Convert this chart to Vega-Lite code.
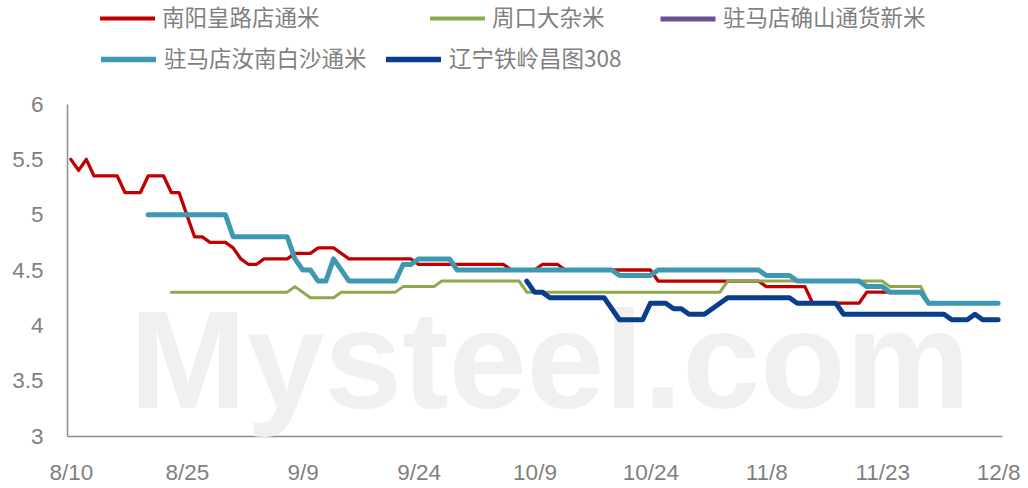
{
  "$schema": "https://vega.github.io/schema/vega-lite/v6.json",
  "autosize": {"type": "none"},
  "width": 935,
  "height": 332,
  "padding": {"left": 67, "top": 104, "right": 26, "bottom": 52},
  "background": "white",
  "config": {
    "view": {"stroke": null},
    "font": "Liberation Sans",
    "legend": {
      "orient": "none",
      "title": null,
      "padding": 0,
      "symbolType": "stroke",
      "symbolSize": 3025,
      "labelFont": "Noto Sans CJK SC",
      "labelFontSize": 22.5,
      "labelColor": "#7f7f7f",
      "labelOffset": 5,
      "labelLimit": 400
    }
  },
  "datasets": {
    "prices": [
      {"series": "南阳皇路店通米", "date": "2023-08-10", "price": 5.5},
      {"series": "南阳皇路店通米", "date": "2023-08-11", "price": 5.4},
      {"series": "南阳皇路店通米", "date": "2023-08-12", "price": 5.5},
      {"series": "南阳皇路店通米", "date": "2023-08-13", "price": 5.35},
      {"series": "南阳皇路店通米", "date": "2023-08-16", "price": 5.35},
      {"series": "南阳皇路店通米", "date": "2023-08-17", "price": 5.2},
      {"series": "南阳皇路店通米", "date": "2023-08-19", "price": 5.2},
      {"series": "南阳皇路店通米", "date": "2023-08-20", "price": 5.35},
      {"series": "南阳皇路店通米", "date": "2023-08-22", "price": 5.35},
      {"series": "南阳皇路店通米", "date": "2023-08-23", "price": 5.2},
      {"series": "南阳皇路店通米", "date": "2023-08-24", "price": 5.2},
      {"series": "南阳皇路店通米", "date": "2023-08-25", "price": 5.0},
      {"series": "南阳皇路店通米", "date": "2023-08-26", "price": 4.8},
      {"series": "南阳皇路店通米", "date": "2023-08-27", "price": 4.8},
      {"series": "南阳皇路店通米", "date": "2023-08-28", "price": 4.75},
      {"series": "南阳皇路店通米", "date": "2023-08-30", "price": 4.75},
      {"series": "南阳皇路店通米", "date": "2023-08-31", "price": 4.7},
      {"series": "南阳皇路店通米", "date": "2023-09-01", "price": 4.6},
      {"series": "南阳皇路店通米", "date": "2023-09-02", "price": 4.55},
      {"series": "南阳皇路店通米", "date": "2023-09-03", "price": 4.55},
      {"series": "南阳皇路店通米", "date": "2023-09-04", "price": 4.6},
      {"series": "南阳皇路店通米", "date": "2023-09-07", "price": 4.6},
      {"series": "南阳皇路店通米", "date": "2023-09-08", "price": 4.65},
      {"series": "南阳皇路店通米", "date": "2023-09-10", "price": 4.65},
      {"series": "南阳皇路店通米", "date": "2023-09-11", "price": 4.7},
      {"series": "南阳皇路店通米", "date": "2023-09-13", "price": 4.7},
      {"series": "南阳皇路店通米", "date": "2023-09-15", "price": 4.6},
      {"series": "南阳皇路店通米", "date": "2023-09-23", "price": 4.6},
      {"series": "南阳皇路店通米", "date": "2023-09-24", "price": 4.55},
      {"series": "南阳皇路店通米", "date": "2023-10-05", "price": 4.55},
      {"series": "南阳皇路店通米", "date": "2023-10-06", "price": 4.5},
      {"series": "南阳皇路店通米", "date": "2023-10-09", "price": 4.5},
      {"series": "南阳皇路店通米", "date": "2023-10-10", "price": 4.55},
      {"series": "南阳皇路店通米", "date": "2023-10-12", "price": 4.55},
      {"series": "南阳皇路店通米", "date": "2023-10-13", "price": 4.5},
      {"series": "南阳皇路店通米", "date": "2023-10-24", "price": 4.5},
      {"series": "南阳皇路店通米", "date": "2023-10-25", "price": 4.4},
      {"series": "南阳皇路店通米", "date": "2023-11-07", "price": 4.4},
      {"series": "南阳皇路店通米", "date": "2023-11-08", "price": 4.35},
      {"series": "南阳皇路店通米", "date": "2023-11-13", "price": 4.35},
      {"series": "南阳皇路店通米", "date": "2023-11-14", "price": 4.2},
      {"series": "南阳皇路店通米", "date": "2023-11-20", "price": 4.2},
      {"series": "南阳皇路店通米", "date": "2023-11-21", "price": 4.3},
      {"series": "南阳皇路店通米", "date": "2023-11-28", "price": 4.3},
      {"series": "南阳皇路店通米", "date": "2023-11-29", "price": 4.2},
      {"series": "南阳皇路店通米", "date": "2023-12-08", "price": 4.2},

      {"series": "周口大杂米", "date": "2023-08-23", "price": 4.3},
      {"series": "周口大杂米", "date": "2023-09-07", "price": 4.3},
      {"series": "周口大杂米", "date": "2023-09-08", "price": 4.35},
      {"series": "周口大杂米", "date": "2023-09-10", "price": 4.25},
      {"series": "周口大杂米", "date": "2023-09-13", "price": 4.25},
      {"series": "周口大杂米", "date": "2023-09-14", "price": 4.3},
      {"series": "周口大杂米", "date": "2023-09-21", "price": 4.3},
      {"series": "周口大杂米", "date": "2023-09-22", "price": 4.35},
      {"series": "周口大杂米", "date": "2023-09-26", "price": 4.35},
      {"series": "周口大杂米", "date": "2023-09-27", "price": 4.4},
      {"series": "周口大杂米", "date": "2023-10-07", "price": 4.4},
      {"series": "周口大杂米", "date": "2023-10-08", "price": 4.3},
      {"series": "周口大杂米", "date": "2023-11-02", "price": 4.3},
      {"series": "周口大杂米", "date": "2023-11-03", "price": 4.4},
      {"series": "周口大杂米", "date": "2023-11-23", "price": 4.4},
      {"series": "周口大杂米", "date": "2023-11-24", "price": 4.35},
      {"series": "周口大杂米", "date": "2023-11-28", "price": 4.35},
      {"series": "周口大杂米", "date": "2023-11-29", "price": 4.2},
      {"series": "周口大杂米", "date": "2023-12-08", "price": 4.2},

      {"series": "驻马店汝南白沙通米", "date": "2023-08-20", "price": 5.0},
      {"series": "驻马店汝南白沙通米", "date": "2023-08-30", "price": 5.0},
      {"series": "驻马店汝南白沙通米", "date": "2023-08-31", "price": 4.8},
      {"series": "驻马店汝南白沙通米", "date": "2023-09-07", "price": 4.8},
      {"series": "驻马店汝南白沙通米", "date": "2023-09-08", "price": 4.6},
      {"series": "驻马店汝南白沙通米", "date": "2023-09-09", "price": 4.5},
      {"series": "驻马店汝南白沙通米", "date": "2023-09-10", "price": 4.5},
      {"series": "驻马店汝南白沙通米", "date": "2023-09-11", "price": 4.4},
      {"series": "驻马店汝南白沙通米", "date": "2023-09-12", "price": 4.4},
      {"series": "驻马店汝南白沙通米", "date": "2023-09-13", "price": 4.6},
      {"series": "驻马店汝南白沙通米", "date": "2023-09-15", "price": 4.4},
      {"series": "驻马店汝南白沙通米", "date": "2023-09-21", "price": 4.4},
      {"series": "驻马店汝南白沙通米", "date": "2023-09-22", "price": 4.55},
      {"series": "驻马店汝南白沙通米", "date": "2023-09-23", "price": 4.55},
      {"series": "驻马店汝南白沙通米", "date": "2023-09-24", "price": 4.6},
      {"series": "驻马店汝南白沙通米", "date": "2023-09-28", "price": 4.6},
      {"series": "驻马店汝南白沙通米", "date": "2023-09-29", "price": 4.5},
      {"series": "驻马店汝南白沙通米", "date": "2023-10-19", "price": 4.5},
      {"series": "驻马店汝南白沙通米", "date": "2023-10-20", "price": 4.45},
      {"series": "驻马店汝南白沙通米", "date": "2023-10-24", "price": 4.45},
      {"series": "驻马店汝南白沙通米", "date": "2023-10-25", "price": 4.5},
      {"series": "驻马店汝南白沙通米", "date": "2023-11-07", "price": 4.5},
      {"series": "驻马店汝南白沙通米", "date": "2023-11-08", "price": 4.45},
      {"series": "驻马店汝南白沙通米", "date": "2023-11-11", "price": 4.45},
      {"series": "驻马店汝南白沙通米", "date": "2023-11-12", "price": 4.4},
      {"series": "驻马店汝南白沙通米", "date": "2023-11-20", "price": 4.4},
      {"series": "驻马店汝南白沙通米", "date": "2023-11-21", "price": 4.35},
      {"series": "驻马店汝南白沙通米", "date": "2023-11-23", "price": 4.35},
      {"series": "驻马店汝南白沙通米", "date": "2023-11-24", "price": 4.3},
      {"series": "驻马店汝南白沙通米", "date": "2023-11-28", "price": 4.3},
      {"series": "驻马店汝南白沙通米", "date": "2023-11-29", "price": 4.2},
      {"series": "驻马店汝南白沙通米", "date": "2023-12-08", "price": 4.2},

      {"series": "辽宁铁岭昌图308", "date": "2023-10-08", "price": 4.4},
      {"series": "辽宁铁岭昌图308", "date": "2023-10-09", "price": 4.3},
      {"series": "辽宁铁岭昌图308", "date": "2023-10-10", "price": 4.3},
      {"series": "辽宁铁岭昌图308", "date": "2023-10-11", "price": 4.25},
      {"series": "辽宁铁岭昌图308", "date": "2023-10-18", "price": 4.25},
      {"series": "辽宁铁岭昌图308", "date": "2023-10-20", "price": 4.05},
      {"series": "辽宁铁岭昌图308", "date": "2023-10-23", "price": 4.05},
      {"series": "辽宁铁岭昌图308", "date": "2023-10-24", "price": 4.2},
      {"series": "辽宁铁岭昌图308", "date": "2023-10-26", "price": 4.2},
      {"series": "辽宁铁岭昌图308", "date": "2023-10-27", "price": 4.15},
      {"series": "辽宁铁岭昌图308", "date": "2023-10-28", "price": 4.15},
      {"series": "辽宁铁岭昌图308", "date": "2023-10-29", "price": 4.1},
      {"series": "辽宁铁岭昌图308", "date": "2023-10-31", "price": 4.1},
      {"series": "辽宁铁岭昌图308", "date": "2023-11-03", "price": 4.25},
      {"series": "辽宁铁岭昌图308", "date": "2023-11-11", "price": 4.25},
      {"series": "辽宁铁岭昌图308", "date": "2023-11-12", "price": 4.2},
      {"series": "辽宁铁岭昌图308", "date": "2023-11-17", "price": 4.2},
      {"series": "辽宁铁岭昌图308", "date": "2023-11-18", "price": 4.1},
      {"series": "辽宁铁岭昌图308", "date": "2023-12-01", "price": 4.1},
      {"series": "辽宁铁岭昌图308", "date": "2023-12-02", "price": 4.05},
      {"series": "辽宁铁岭昌图308", "date": "2023-12-04", "price": 4.05},
      {"series": "辽宁铁岭昌图308", "date": "2023-12-05", "price": 4.1},
      {"series": "辽宁铁岭昌图308", "date": "2023-12-06", "price": 4.05},
      {"series": "辽宁铁岭昌图308", "date": "2023-12-08", "price": 4.05}
    ],
    "watermark": [
      {"label": "Mysteel.com", "date": "2023-10-11", "price": 3.25}
    ]
  },
  "data": {"name": "prices"},
  "encoding": {
    "x": {
      "field": "date",
      "type": "temporal",
      "title": null,
      "scale": {
        "type": "utc",
        "domain": [
          {"year": 2023, "month": 8, "date": 9, "hours": 12, "utc": true},
          {"year": 2023, "month": 12, "date": 8, "hours": 12, "utc": true}
        ]
      },
      "axis": {
        "values": [
          {"year": 2023, "month": 8, "date": 10, "utc": true},
          {"year": 2023, "month": 8, "date": 25, "utc": true},
          {"year": 2023, "month": 9, "date": 9, "utc": true},
          {"year": 2023, "month": 9, "date": 24, "utc": true},
          {"year": 2023, "month": 10, "date": 9, "utc": true},
          {"year": 2023, "month": 10, "date": 24, "utc": true},
          {"year": 2023, "month": 11, "date": 8, "utc": true},
          {"year": 2023, "month": 11, "date": 23, "utc": true},
          {"year": 2023, "month": 12, "date": 8, "utc": true}
        ],
        "format": "%-m/%-d",
        "grid": false,
        "ticks": false,
        "tickSize": 0,
        "labelPadding": 25,
        "labelFontSize": 22.5,
        "labelColor": "#7f7f7f",
        "labelFont": "Liberation Sans",
        "domainColor": "#8c8c8c",
        "domainWidth": 1.5,
        "labelOverlap": false,
        "labelFlush": false
      }
    },
    "y": {
      "field": "price",
      "type": "quantitative",
      "title": null,
      "scale": {"domain": [3, 6], "nice": false, "zero": false},
      "axis": {
        "values": [3, 3.5, 4, 4.5, 5, 5.5, 6],
        "labelExpr": "datum.value",
        "grid": false,
        "ticks": false,
        "tickSize": 0,
        "labelPadding": 24,
        "labelFontSize": 22.5,
        "labelColor": "#7f7f7f",
        "labelFont": "Liberation Sans",
        "domainColor": "#8c8c8c",
        "domainWidth": 1.5,
        "labelOverlap": false,
        "labelFlush": false
      }
    }
  },
  "layer": [
    {
      "data": {"name": "watermark"},
      "mark": {
        "type": "text",
        "font": "Liberation Sans",
        "fontWeight": "bold",
        "fontSize": 140,
        "align": "center",
        "baseline": "alphabetic",
        "color": "#f0f0f0"
      },
      "encoding": {
        "text": {"field": "label", "type": "nominal"}
      }
    },
    {
      "mark": {"type": "line", "strokeWidth": 3.3, "strokeCap": "round", "strokeJoin": "round"},
      "transform": [{"filter": "datum.series === '南阳皇路店通米'"}],
      "encoding": {
        "color": {
          "field": "series", "type": "nominal",
          "scale": {"domain": ["南阳皇路店通米"], "range": ["#C00000"]},
          "legend": {"legendX": 31, "legendY": -115, "symbolStrokeWidth": 4}
        }
      }
    },
    {
      "mark": {"type": "line", "strokeWidth": 3, "strokeCap": "round", "strokeJoin": "round"},
      "transform": [{"filter": "datum.series === '周口大杂米'"}],
      "encoding": {
        "color": {
          "field": "series", "type": "nominal",
          "scale": {"domain": ["周口大杂米"], "range": ["#8EA94C"]},
          "legend": {"legendX": 361, "legendY": -115, "symbolStrokeWidth": 4}
        }
      }
    },
    {
      "mark": {"type": "line", "strokeWidth": 3.3, "strokeCap": "round", "strokeJoin": "round"},
      "transform": [{"filter": "datum.series === '驻马店确山通货新米'"}],
      "encoding": {
        "color": {
          "field": "series", "type": "nominal",
          "scale": {"domain": ["驻马店确山通货新米"], "range": ["#6B5196"]},
          "legend": {"legendX": 591, "legendY": -115, "symbolStrokeWidth": 5}
        }
      }
    },
    {
      "mark": {"type": "line", "strokeWidth": 5, "strokeCap": "round", "strokeJoin": "round"},
      "transform": [{"filter": "datum.series === '驻马店汝南白沙通米'"}],
      "encoding": {
        "color": {
          "field": "series", "type": "nominal",
          "scale": {"domain": ["驻马店汝南白沙通米"], "range": ["#3F98B2"]},
          "legend": {"legendX": 31, "legendY": -75, "symbolStrokeWidth": 5.5}
        }
      }
    },
    {
      "mark": {"type": "line", "strokeWidth": 5, "strokeCap": "round", "strokeJoin": "round"},
      "transform": [{"filter": "datum.series === '辽宁铁岭昌图308'"}],
      "encoding": {
        "color": {
          "field": "series", "type": "nominal",
          "scale": {"domain": ["辽宁铁岭昌图308"], "range": ["#083E8C"]},
          "legend": {"legendX": 316, "legendY": -75, "symbolStrokeWidth": 5.5}
        }
      }
    }
  ],
  "resolve": {"scale": {"color": "independent"}}
}
